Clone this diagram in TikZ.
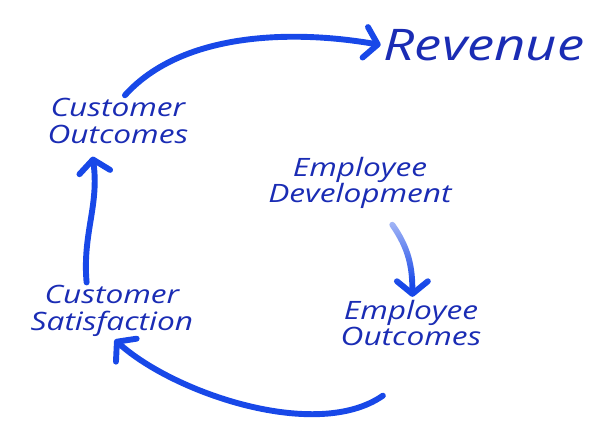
\documentclass[tikz,border=0pt]{standalone}
\usepackage{fontspec}
\setmainfont{Open Sans}[FakeStretch=1.25]
\usetikzlibrary{arrows.meta,fadings}
\definecolor{inkblue}{RGB}{26,44,180}
\definecolor{penblue}{RGB}{24,72,232}
% fade only the upper part of a path
\begin{tikzfadingfrompicture}[name=fadetop]
  \fill[transparent!0] (-100bp,-100bp) rectangle (100bp,100bp);
  \shade[top color=transparent!90, bottom color=transparent!0] (-100bp,-15bp) rectangle (100bp,45bp);
  \fill[transparent!90] (-100bp,45bp) rectangle (100bp,100bp);
\end{tikzfadingfrompicture}
\tikzset{%
  >={Straight Barb[length=9pt,width=22pt,round]},
  % Specifications for style of nodes:
     stage/.style = {align=center, text=inkblue, inner sep=2pt,
                     font=\fontsize{18}{19}\selectfont\itshape},
     title/.style = {stage, font=\fontsize{31}{33}\selectfont\itshape},
      flow/.style = {->, draw=penblue, line width=4.2pt, line cap=round}
}

\begin{document}
\begin{tikzpicture}[x=0.025cm, y=-0.025cm]
  \useasboundingbox (0,0) rectangle (600,441);

  \node (revenue) [title] at (484,45) {Revenue};
  \node (custout) [stage, below of=revenue, node distance=1.9cm, xshift=-9.15cm] {Customer\\Outcomes};
  \node (empdev)  [stage, below of=custout, node distance=1.55cm, xshift=6.05cm] {Employee\\Development};
  \node (empout)  [stage, below of=empdev, node distance=3.5cm, xshift=1.275cm] {Employee\\Outcomes};
  \node (custsat) [stage, below of=custout, node distance=4.75cm, xshift=-0.15cm] {Customer\\Satisfaction};

    \draw[flow]   ([xshift=5pt]custout.north) to[out=48,in=170,looseness=0.85] (revenue.west);
    \draw[flow]   ([xshift=-18pt]custsat.north) to[out=95,in=-82] ([xshift=-18pt,yshift=-7pt]custout.south);
    \draw[flow]   ([xshift=-20pt,yshift=-33pt]empout.south) to[out=-145,in=-42,looseness=0.75] ([xshift=2pt]custsat.south);
    \draw[flow,path fading=fadetop] ([xshift=23pt,yshift=-9pt]empdev.south) to[out=-55,in=90] ([xshift=1pt]empout.north);
\end{tikzpicture}
\end{document}
